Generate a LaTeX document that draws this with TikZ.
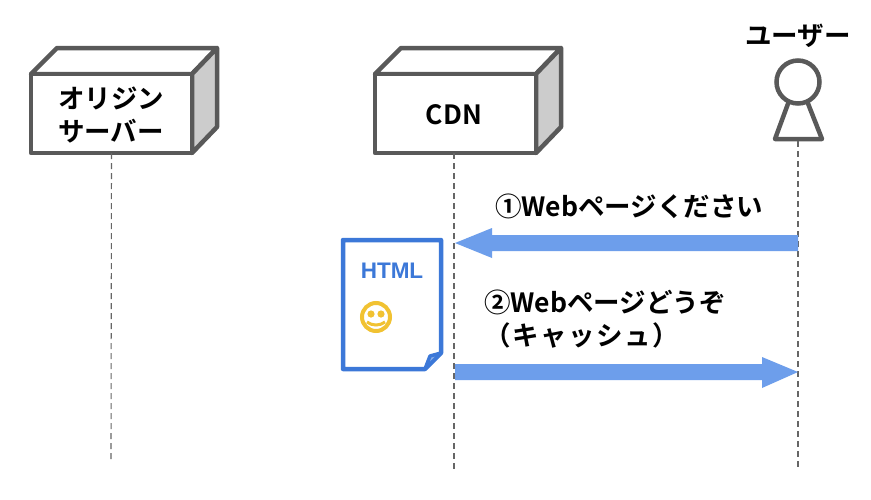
\documentclass[tikz,border=0pt]{standalone}
\usepackage{fontspec}
\setmainfont{Noto Sans CJK JP}[BoldFont={* Bold}]
\newfontfamily\cjkb{Noto Sans CJK JP Bold}
\newfontfamily\cjkbw[LetterSpace=6]{Noto Sans CJK JP Bold}
\newfontfamily\arialb{Liberation Sans Bold}
\definecolor{boxgray}{HTML}{595959}
\definecolor{sidegray}{HTML}{CCCCCC}
\definecolor{linegray}{HTML}{666666}
\definecolor{arrowblue}{HTML}{6D9EEB}
\definecolor{docblue}{HTML}{3C78D8}
\definecolor{smile}{HTML}{F1C232}
\tikzset{
  x=1pt,y=-1pt,
  every node/.style={inner sep=0pt,outer sep=0pt},
  frontbox/.style={draw=boxgray,line width=4.5pt,fill=white,line join=round,minimum width=161pt,minimum height=79pt,anchor=north west},
  boxedge/.style={draw=boxgray,line width=4.5pt,line join=round},
  lifeline/.style={draw=linegray,line width=1.1pt,dash pattern=on 6pt off 4pt},
  label/.style={font=\cjkb\fontsize{26.5}{32}\selectfont,text=black},
  bigarrow/.style={fill=arrowblue,draw=none},
  actorline/.style={draw=boxgray,line width=4.5pt,line join=round}
}
\newcommand{\devicebox}[2]{%
  \path[fill=white,boxedge] (#1,74) -- (#1+26,48) -- (#1+186,48) -- (#1+161,74) -- cycle;
  \path[fill=sidegray,boxedge] (#1+161,74) -- (#1+186,48) -- (#1+186,127) -- (#1+161,153) -- cycle;
}
\begin{document}
\begin{tikzpicture}
\useasboundingbox (0,0) rectangle (871,499);
\fill[white] (0,0) rectangle (871,499);
% lifelines ends
\coordinate (oend) at (111,460);
\coordinate (cend) at (454,470);
\coordinate (uend) at (798,470);
% devices
\devicebox{31}{}
\devicebox{375}{}
\node[frontbox] (origin) at (31,74) {};
\node[frontbox] (cdn) at (375,74) {};
\node[label] (ot1) at (111,98) {オリジン};
\node[label] (ot2) at (111,131) {サーバー};
\node[label] (ct) at (454,115) {CDN};
% actor
\node[label] (ut) at (798,36) {ユーザー};
\node[draw=boxgray,line width=4.5pt,circle,minimum size=43pt] (head) at (798,82) {};
\coordinate (bodyL) at (775,139);
\coordinate (bodyR) at (822,139);
\draw[actorline] (789,101) -- (bodyL) -- (bodyR) -- (807,101);
\coordinate (ubase) at (798,141);
\draw[lifeline] (origin.south) -- (oend);
\draw[lifeline] (cdn.south -| cend) -- (cend);
\draw[lifeline] (ubase) -- (uend);
% arrows
\fill[bigarrow] (798,235) -- (492,235) -- (492,228) -- (455,243) -- (492,258) -- (492,251) -- (798,251) -- cycle;
\fill[bigarrow] (455,364) -- (762,364) -- (762,357) -- (798,372) -- (762,388) -- (762,380) -- (455,380) -- cycle;
% labels
\node[label,anchor=west] (m1) at (495,206) {①Webページください};
\node[label,anchor=west] (m2) at (484,302) {②Webページどうぞ};
\node[label,anchor=west,font=\cjkbw\fontsize{26.5}{32}\selectfont] (m3) at (484,335) {（キャッシュ）};
% document
\path[draw=docblue,line width=4.5pt,line join=round,fill=white] (343,240) -- (441,240) -- (441,353) -- (425,369) -- (343,369) -- cycle;
\path[draw=docblue,line width=3.5pt,line join=round,fill=docblue!60] (441,353) -- (430,356) -- (425,369) -- cycle;
\node[font=\arialb\fontsize{22.5}{26}\selectfont,text=docblue] (html) at (392,271) {HTML};
% smiley
\draw[smile,line width=4pt,fill=white] (376,317) circle (14);
\fill[smile] (371,314) circle (3.6) (381,314) circle (3.6);
\draw[smile,line width=3pt] (367,322) .. controls (372,326) and (380,326) .. (385,322);
\end{tikzpicture}
\end{document}
